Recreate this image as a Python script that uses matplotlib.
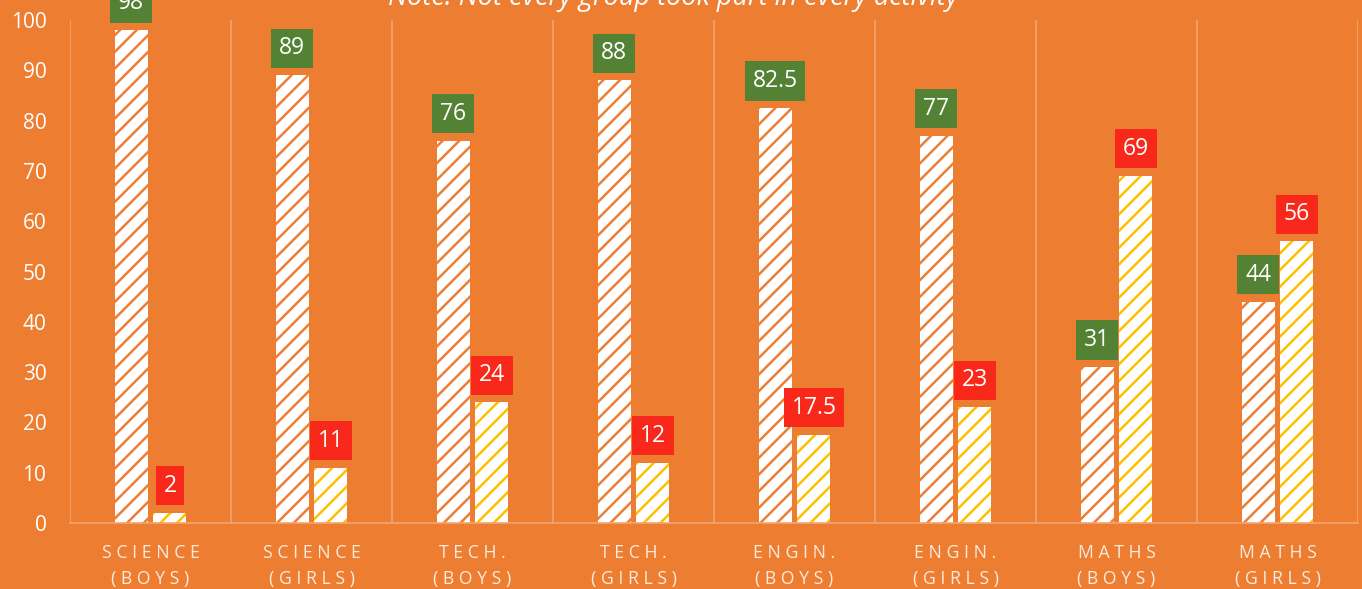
import matplotlib.pyplot as plt
import numpy as np

plt.rcParams['font.family'] = ['Open Sans', 'DejaVu Sans']
plt.rcParams['hatch.linewidth'] = 1.8

categories = ['SCIENCE\n(BOYS)', 'SCIENCE\n(GIRLS)', 'TECH.\n(BOYS)', 'TECH.\n(GIRLS)',
              'ENGIN.\n(BOYS)', 'ENGIN.\n(GIRLS)', 'MATHS\n(BOYS)', 'MATHS\n(GIRLS)']
took_part = [98, 89, 76, 88, 82.5, 77, 31, 44]
did_not = [2, 11, 24, 12, 17.5, 23, 69, 56]

bg = '#ED7D31'
fig = plt.figure(figsize=(13.62, 5.89), dpi=100, facecolor=bg)
ax = fig.add_axes([70/1362, 66/589, 1288/1362, 503/589], facecolor=bg)

x = np.arange(len(categories))
w = 0.205
off = 0.121
b1 = ax.bar(x - off, took_part, w, color='white', edgecolor='#EE7E33', linewidth=0, hatch='//')
b2 = ax.bar(x + off, did_not, w, color='white', edgecolor='#FFC000', linewidth=0, hatch='//')

def fmt(v):
    return f'{v:g}'

for bars, vals, col in [(b1, took_part, '#548235'), (b2, did_not, '#F8281A')]:
    for r, v in zip(bars, vals):
        ax.annotate(fmt(v), (r.get_x() + r.get_width()/2, v), xytext=(0, 19.5),
                    textcoords='offset points', ha='center', va='center',
                    color='white', fontsize=16.5, annotation_clip=False,
                    bbox=dict(boxstyle='square,pad=0.33', fc=col, ec='none'))

ax.set_xlim(-0.5, len(categories) - 0.5)
ax.set_ylim(0, 100)
ax.set_yticks(range(0, 101, 10))
ax.tick_params(axis='y', length=0, labelsize=15, labelcolor='white', pad=17)

spaced = ['\n'.join(' '.join(line) for line in c.split('\n')) for c in categories]
ax.set_xticks(x)
ax.set_xticklabels(spaced, fontsize=12.7, color='#FCEBDD', linespacing=1.6)
ax.tick_params(axis='x', length=0, pad=15)

for s in ['top', 'right', 'left']:
    ax.spines[s].set_visible(False)
ax.spines['bottom'].set_color('#F4A46E')
ax.spines['bottom'].set_linewidth(1.2)
for xv in np.arange(-0.5, len(categories), 1.0):
    ax.axvline(xv, color='#F4A46E', linewidth=1.2, zorder=0)

fig.text(0.494, 0.992, 'Note: Not every group took part in every activity', ha='center', va='baseline',
         style='italic', color='white', fontsize=19.5)

fig.savefig('out.png', dpi=100, facecolor=bg)
